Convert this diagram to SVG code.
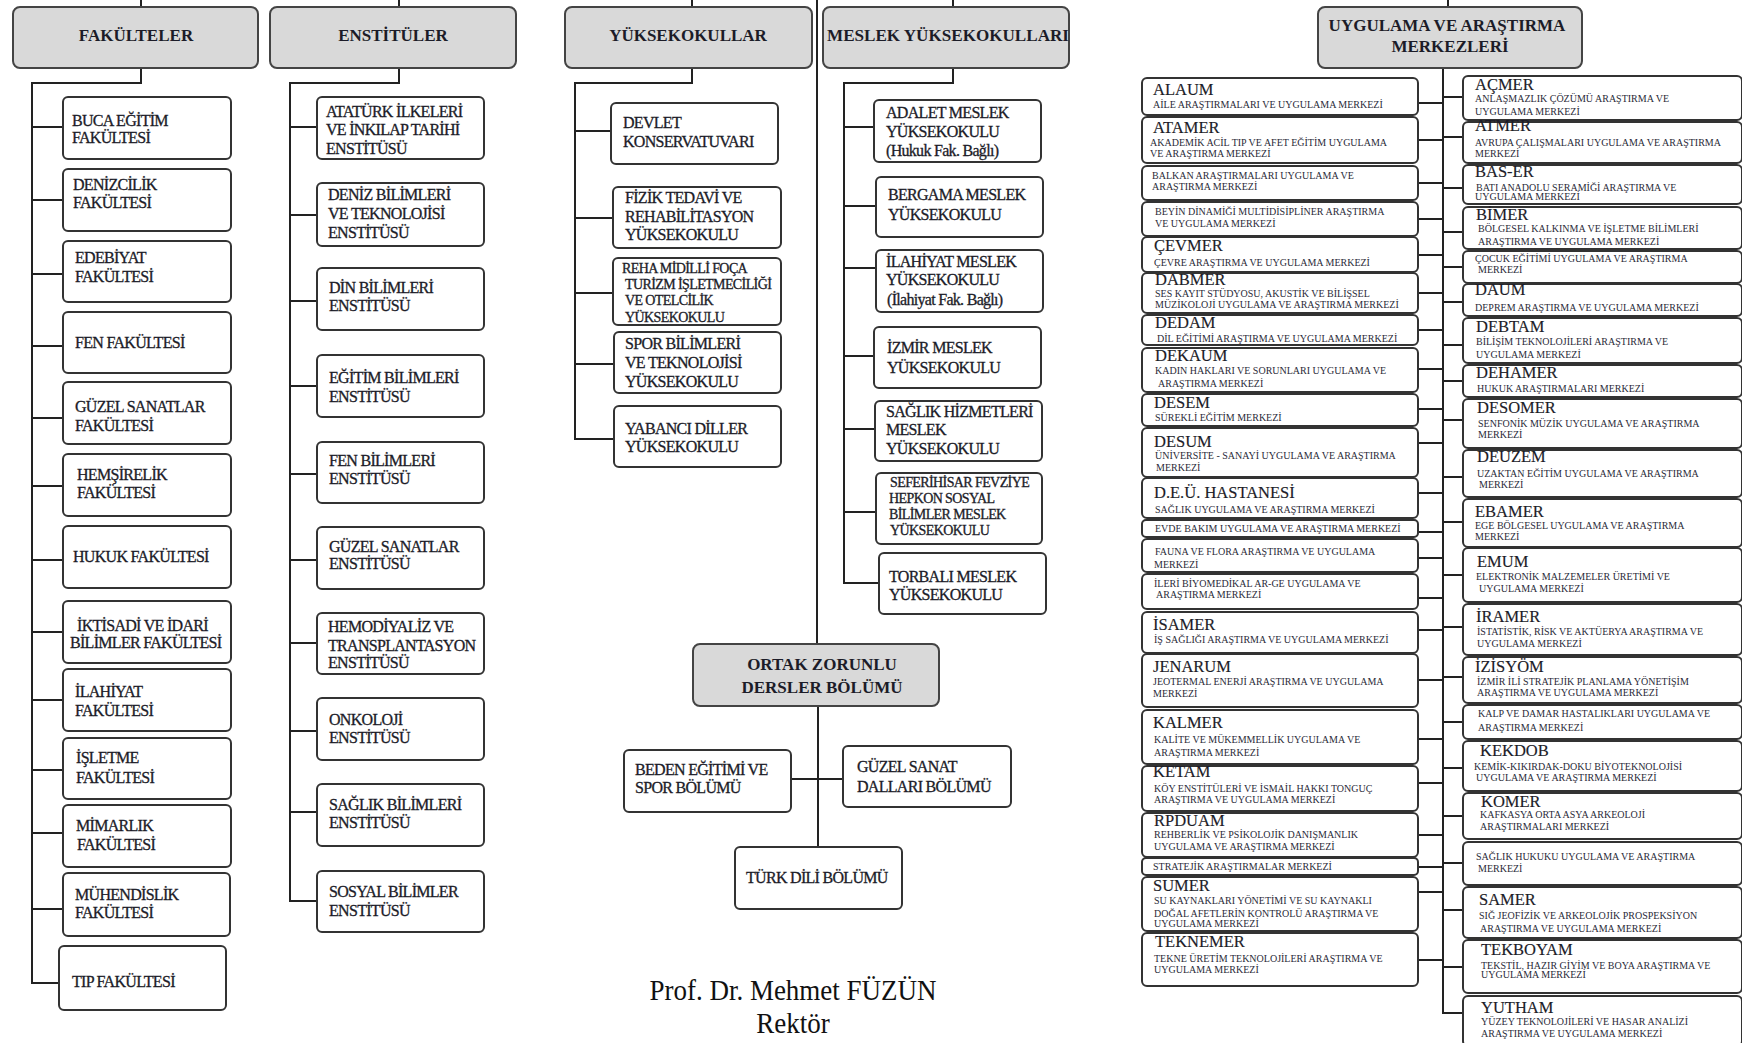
<svg xmlns="http://www.w3.org/2000/svg" width="1742" height="1043" viewBox="0 0 1742 1043">
<style>
text{font-family:"Liberation Serif","Times New Roman",serif;fill:#1c1c28}
.box{fill:#fff;stroke:#333;stroke-width:2}
.hdr{fill:#d9d9d9;stroke:#444;stroke-width:2}
.h{font-size:17px;font-weight:bold;text-anchor:middle}
.t{font-size:16px;letter-spacing:-0.7px;stroke:#1c1c28;stroke-width:0.3}
.s{font-size:14px;letter-spacing:-0.6px;stroke:#1c1c28;stroke-width:0.3}
.ct{font-size:16.5px;stroke:#1c1c28;stroke-width:0.15}
.cs{font-size:10px;fill:#2a2a38}
.sig{font-size:27px;text-anchor:middle;fill:#111;transform-box:fill-box;transform-origin:50% 80.5%;transform:scaleY(1.1)}
.ln{fill:none;stroke:#222;stroke-width:2}
</style>
<rect width="1742" height="1043" fill="#fff"/>
<g id="connectors" class="ln">
<path d="M141 0V7M399 0V7M692 0V7M953 0V7M1448 0V7M817 0V644"/>
<path d="M141 68V83H32V983H59M32 127H63M32 200H63M32 274H63M32 346H63M32 418H63M32 486H63M32 560H63M32 632H63M32 700H63M32 770H63M32 833H63M32 909H63"/>
<path d="M399 68V83H290V901H317M290 127H317M290 215H317M290 301H317M290 386H317M290 474H317M290 560H317M290 643H317M290 731H317M290 812H317"/>
<path d="M692 68V83H575V439H614M575 131H611M575 218H613M575 293H613M575 364H614"/>
<path d="M953 68V83H844V583H879M844 127H874M844 206H876M844 268H876M844 356H874M844 429H875M844 512H876"/>
<path d="M818 706V847M791 779H843"/>
<path d="M1443 68V1013H1463"/>
<path d="M1418 103H1443M1418 140H1443M1418 183H1443M1418 219H1443M1418 255H1443M1418 293H1443M1418 330H1443M1418 369H1443M1418 409H1443M1418 443H1443M1418 493H1443M1418 532H1443M1418 558H1443M1418 598H1443M1418 630H1443M1418 680H1443M1418 739H1443M1418 783H1443M1418 835H1443M1418 867H1443M1418 892H1443M1418 960H1443"/>
<path d="M1443 97H1463M1443 137H1463M1443 188H1463M1443 232H1463M1443 267H1463M1443 302H1463M1443 345H1463M1443 381H1463M1443 420H1463M1443 477H1463M1443 522H1463M1443 575H1463M1443 627H1463M1443 677H1463M1443 722H1463M1443 768H1463M1443 816H1463M1443 863H1463M1443 910H1463M1443 967H1463"/>
</g>

<!-- headers -->
<g id="hdr-fakulteler"><rect class="hdr" x="13" y="7" width="245" height="61" rx="7"/><text class="h" x="136" y="41">FAKÜLTELER</text></g>
<g id="hdr-enstituler"><rect class="hdr" x="270" y="7" width="246" height="61" rx="7"/><text class="h" x="393" y="41">ENSTİTÜLER</text></g>
<g id="hdr-yuksekokullar"><rect class="hdr" x="565" y="7" width="247" height="61" rx="7"/><text class="h" x="688" y="41">YÜKSEKOKULLAR</text></g>
<g id="hdr-myo"><rect class="hdr" x="823" y="7" width="246" height="61" rx="7"/><text class="h" x="948" y="41" textLength="242" lengthAdjust="spacingAndGlyphs">MESLEK YÜKSEKOKULLARI</text></g>
<g id="hdr-merkezler"><rect class="hdr" x="1318" y="7" width="264" height="61" rx="7"/><text class="h" x="1447" y="31">UYGULAMA VE ARAŞTIRMA</text><text class="h" x="1450" y="52">MERKEZLERİ</text></g>

<!-- Fakülteler -->
<g id="fak-buca"><rect class="box" x="63" y="97" width="168" height="62" rx="5"/><text class="t" x="72" y="126">BUCA EĞİTİM</text><text class="t" x="72" y="143">FAKÜLTESİ</text></g>
<g id="fak-denizcilik"><rect class="box" x="63" y="169" width="168" height="62" rx="5"/><text class="t" x="73" y="190">DENİZCİLİK</text><text class="t" x="73" y="208">FAKÜLTESİ</text></g>
<g id="fak-edebiyat"><rect class="box" x="63" y="241" width="168" height="61" rx="5"/><text class="t" x="75" y="263">EDEBİYAT</text><text class="t" x="75" y="282">FAKÜLTESİ</text></g>
<g id="fak-fen"><rect class="box" x="63" y="312" width="168" height="61" rx="5"/><text class="t" x="75" y="348">FEN FAKÜLTESİ</text></g>
<g id="fak-guzel"><rect class="box" x="63" y="382" width="168" height="62" rx="5"/><text class="t" x="75" y="412">GÜZEL SANATLAR</text><text class="t" x="75" y="431">FAKÜLTESİ</text></g>
<g id="fak-hemsirelik"><rect class="box" x="63" y="454" width="168" height="62" rx="5"/><text class="t" x="77" y="480">HEMŞİRELİK</text><text class="t" x="77" y="498">FAKÜLTESİ</text></g>
<g id="fak-hukuk"><rect class="box" x="63" y="526" width="168" height="62" rx="5"/><text class="t" x="73" y="562">HUKUK  FAKÜLTESİ</text></g>
<g id="fak-iktisadi"><rect class="box" x="63" y="601" width="168" height="62" rx="5"/><text class="t" x="77" y="631">İKTİSADİ VE İDARİ</text><text class="t" x="70" y="648">BİLİMLER FAKÜLTESİ</text></g>
<g id="fak-ilahiyat"><rect class="box" x="63" y="669" width="168" height="62" rx="5"/><text class="t" x="75" y="697">İLAHİYAT</text><text class="t" x="75" y="716">FAKÜLTESİ</text></g>
<g id="fak-isletme"><rect class="box" x="63" y="738" width="168" height="61" rx="5"/><text class="t" x="76" y="763">İŞLETME</text><text class="t" x="76" y="783">FAKÜLTESİ</text></g>
<g id="fak-mimarlik"><rect class="box" x="63" y="805" width="168" height="62" rx="5"/><text class="t" x="76" y="831">MİMARLIK</text><text class="t" x="77" y="850">FAKÜLTESİ</text></g>
<g id="fak-muhendislik"><rect class="box" x="63" y="873" width="167" height="63" rx="5"/><text class="t" x="75" y="900">MÜHENDİSLİK</text><text class="t" x="75" y="918">FAKÜLTESİ</text></g>
<g id="fak-tip"><rect class="box" x="59" y="946" width="167" height="64" rx="5"/><text class="t" x="72" y="987">TIP FAKÜLTESİ</text></g>

<!-- Enstitüler -->
<g id="ens-ataturk"><rect class="box" x="317" y="97" width="167" height="62" rx="5"/><text class="t" x="326" y="117">ATATÜRK İLKELERİ</text><text class="t" x="326" y="135">VE İNKILAP TARİHİ</text><text class="t" x="326" y="154">ENSTİTÜSÜ</text></g>
<g id="ens-deniz"><rect class="box" x="317" y="183" width="167" height="63" rx="5"/><text class="t" x="328" y="200">DENİZ BİLİMLERİ</text><text class="t" x="328" y="219">VE TEKNOLOJİSİ</text><text class="t" x="328" y="238">ENSTİTÜSÜ</text></g>
<g id="ens-din"><rect class="box" x="317" y="268" width="167" height="62" rx="5"/><text class="t" x="329" y="293">DİN BİLİMLERİ</text><text class="t" x="329" y="311">ENSTİTÜSÜ</text></g>
<g id="ens-egitim"><rect class="box" x="317" y="355" width="167" height="62" rx="5"/><text class="t" x="329" y="383">EĞİTİM BİLİMLERİ</text><text class="t" x="329" y="402">ENSTİTÜSÜ</text></g>
<g id="ens-fen"><rect class="box" x="317" y="442" width="167" height="61" rx="5"/><text class="t" x="329" y="466">FEN BİLİMLERİ</text><text class="t" x="329" y="484">ENSTİTÜSÜ</text></g>
<g id="ens-guzel"><rect class="box" x="317" y="527" width="167" height="62" rx="5"/><text class="t" x="329" y="552">GÜZEL SANATLAR</text><text class="t" x="329" y="569">ENSTİTÜSÜ</text></g>
<g id="ens-hemodiyaliz"><rect class="box" x="317" y="613" width="167" height="61" rx="5"/><text class="t" x="328" y="632">HEMODİYALİZ VE</text><text class="t" x="328" y="651">TRANSPLANTASYON</text><text class="t" x="328" y="668">ENSTİTÜSÜ</text></g>
<g id="ens-onkoloji"><rect class="box" x="317" y="698" width="167" height="62" rx="5"/><text class="t" x="329" y="725">ONKOLOJİ</text><text class="t" x="329" y="743">ENSTİTÜSÜ</text></g>
<g id="ens-saglik"><rect class="box" x="317" y="784" width="167" height="62" rx="5"/><text class="t" x="329" y="810">SAĞLIK BİLİMLERİ</text><text class="t" x="329" y="828">ENSTİTÜSÜ</text></g>
<g id="ens-sosyal"><rect class="box" x="317" y="871" width="167" height="61" rx="5"/><text class="t" x="329" y="897">SOSYAL BİLİMLER</text><text class="t" x="329" y="916">ENSTİTÜSÜ</text></g>

<!-- Yüksekokullar -->
<g id="yo-devlet"><rect class="box" x="611" y="103" width="167" height="61" rx="5"/><text class="t" x="623" y="128">DEVLET</text><text class="t" x="623" y="147">KONSERVATUVARI</text></g>
<g id="yo-fizik"><rect class="box" x="613" y="187" width="168" height="61" rx="5"/><text class="t" x="625" y="203">FİZİK TEDAVİ VE</text><text class="t" x="625" y="222">REHABİLİTASYON</text><text class="t" x="625" y="240">YÜKSEKOKULU</text></g>
<g id="yo-reha"><rect class="box" x="613" y="258" width="168" height="67" rx="5"/><text class="s" x="622" y="273">REHA MİDİLLİ FOÇA</text><text class="s" x="625" y="289">TURİZM İŞLETMECİLİĞİ</text><text class="s" x="625" y="305">VE OTELCİLİK</text><text class="s" x="625" y="322">YÜKSEKOKULU</text></g>
<g id="yo-spor"><rect class="box" x="614" y="332" width="167" height="61" rx="5"/><text class="t" x="625" y="349">SPOR BİLİMLERİ</text><text class="t" x="625" y="368">VE TEKNOLOJİSİ</text><text class="t" x="625" y="387">YÜKSEKOKULU</text></g>
<g id="yo-yabanci"><rect class="box" x="614" y="406" width="167" height="61" rx="5"/><text class="t" x="625" y="434">YABANCI  DİLLER</text><text class="t" x="625" y="452">YÜKSEKOKULU</text></g>

<!-- Meslek Yüksekokulları -->
<g id="myo-adalet"><rect class="box" x="874" y="100" width="167" height="62" rx="5"/><text class="t" x="886" y="118">ADALET MESLEK</text><text class="t" x="886" y="137">YÜKSEKOKULU</text><text class="t" x="886" y="156">(Hukuk Fak. Bağlı)</text></g>
<g id="myo-bergama"><rect class="box" x="876" y="177" width="167" height="60" rx="5"/><text class="t" x="888" y="200">BERGAMA MESLEK</text><text class="t" x="888" y="220">YÜKSEKOKULU</text></g>
<g id="myo-ilahiyat"><rect class="box" x="876" y="250" width="167" height="62" rx="5"/><text class="t" x="886" y="267">İLAHİYAT MESLEK</text><text class="t" x="886" y="285">YÜKSEKOKULU</text><text class="t" x="887" y="305">(İlahiyat Fak. Bağlı)</text></g>
<g id="myo-izmir"><rect class="box" x="874" y="327" width="167" height="61" rx="5"/><text class="t" x="887" y="353">İZMİR MESLEK</text><text class="t" x="887" y="373">YÜKSEKOKULU</text></g>
<g id="myo-saglik"><rect class="box" x="875" y="401" width="167" height="60" rx="5"/><text class="t" x="886" y="417">SAĞLIK HİZMETLERİ</text><text class="t" x="886" y="435">MESLEK</text><text class="t" x="886" y="454">YÜKSEKOKULU</text></g>
<g id="myo-seferihisar"><rect class="box" x="876" y="473" width="166" height="71" rx="5"/><text class="s" x="890" y="487">SEFERİHİSAR FEVZİYE</text><text class="s" x="889" y="503">HEPKON SOSYAL</text><text class="s" x="889" y="519">BİLİMLER  MESLEK</text><text class="s" x="890" y="535">YÜKSEKOKULU</text></g>
<g id="myo-torbali"><rect class="box" x="879" y="553" width="167" height="61" rx="5"/><text class="t" x="889" y="582">TORBALI MESLEK</text><text class="t" x="889" y="600">YÜKSEKOKULU</text></g>

<!-- Ortak Zorunlu -->
<g id="hdr-ortak"><rect class="hdr" x="693" y="644" width="246" height="62" rx="7"/><text class="h" x="822" y="670">ORTAK ZORUNLU</text><text class="h" x="822" y="693">DERSLER BÖLÜMÜ</text></g>
<g id="ozd-beden"><rect class="box" x="624" y="750" width="167" height="62" rx="5"/><text class="t" x="635" y="775">BEDEN EĞİTİMİ VE</text><text class="t" x="635" y="793">SPOR BÖLÜMÜ</text></g>
<g id="ozd-guzel"><rect class="box" x="843" y="746" width="168" height="61" rx="5"/><text class="t" x="857" y="772">GÜZEL SANAT</text><text class="t" x="857" y="792">DALLARI BÖLÜMÜ</text></g>
<g id="ozd-turk"><rect class="box" x="735" y="847" width="167" height="62" rx="5"/><text class="t" x="746" y="883">TÜRK DİLİ BÖLÜMÜ</text></g>

<g id="signature"><text class="sig" x="793" y="1000">Prof. Dr. Mehmet FÜZÜN</text><text class="sig" x="793" y="1033">Rektör</text></g>

<!-- Merkezler left column -->
<g id="m-alaum"><rect class="box" x="1142" y="78" width="276" height="37" rx="5"/><text class="ct" x="1153" y="95">ALAUM</text><text class="cs" x="1153" y="108">AİLE ARAŞTIRMALARI VE UYGULAMA MERKEZİ</text></g>
<g id="m-atamer"><rect class="box" x="1142" y="117" width="276" height="46" rx="5"/><text class="ct" x="1153" y="133">ATAMER</text><text class="cs" x="1150" y="146">AKADEMİK ACİL TIP VE AFET EĞİTİM  UYGULAMA</text><text class="cs" x="1150" y="157">VE ARAŞTIRMA MERKEZİ</text></g>
<g id="m-balkan"><rect class="box" x="1142" y="166" width="276" height="34" rx="5"/><text class="cs" x="1152" y="179">BALKAN ARAŞTIRMALARI UYGULAMA VE</text><text class="cs" x="1152" y="190">ARAŞTIRMA MERKEZİ</text></g>
<g id="m-beyin"><rect class="box" x="1142" y="202" width="276" height="34" rx="5"/><text class="cs" x="1155" y="215">BEYİN DİNAMİĞİ MULTİDİSİPLİNER  ARAŞTIRMA</text><text class="cs" x="1155" y="227">VE UYGULAMA MERKEZİ</text></g>
<g id="m-cevmer"><rect class="box" x="1142" y="237" width="276" height="35" rx="5"/><text class="ct" x="1154" y="251">ÇEVMER</text><text class="cs" x="1154" y="266">ÇEVRE ARAŞTIRMA VE UYGULAMA MERKEZİ</text></g>
<g id="m-dabmer"><rect class="box" x="1142" y="273" width="276" height="40" rx="5"/><text class="ct" x="1155" y="285">DABMER</text><text class="cs" x="1155" y="297">SES KAYIT STÜDYOSU, AKUSTİK VE BİLİŞSEL</text><text class="cs" x="1155" y="308">MÜZİKOLOJİ  UYGULAMA VE ARAŞTIRMA MERKEZİ</text></g>
<g id="m-dedam"><rect class="box" x="1142" y="315" width="276" height="30" rx="5"/><text class="ct" x="1155" y="328">DEDAM</text><text class="cs" x="1157" y="342">DİL EĞİTİMİ ARAŞTIRMA VE UYGULAMA MERKEZİ</text></g>
<g id="m-dekaum"><rect class="box" x="1142" y="348" width="276" height="44" rx="5"/><text class="ct" x="1155" y="361">DEKAUM</text><text class="cs" x="1155" y="374">KADIN  HAKLARI VE SORUNLARI UYGULAMA  VE</text><text class="cs" x="1158" y="387">ARAŞTIRMA MERKEZİ</text></g>
<g id="m-desem"><rect class="box" x="1142" y="394" width="276" height="32" rx="5"/><text class="ct" x="1154" y="408">DESEM</text><text class="cs" x="1155" y="421">SÜREKLİ EĞİTİM MERKEZİ</text></g>
<g id="m-desum"><rect class="box" x="1142" y="428" width="276" height="49" rx="5"/><text class="ct" x="1154" y="447">DESUM</text><text class="cs" x="1155" y="459">ÜNİVERSİTE - SANAYİ UYGULAMA VE ARAŞTIRMA</text><text class="cs" x="1156" y="471">MERKEZİ</text></g>
<g id="m-deu"><rect class="box" x="1142" y="478" width="276" height="40" rx="5"/><text class="ct" x="1154" y="498">D.E.Ü. HASTANESİ</text><text class="cs" x="1155" y="513">SAĞLIK UYGULAMA VE  ARAŞTIRMA MERKEZİ</text></g>
<g id="m-evde"><rect class="box" x="1142" y="520" width="276" height="17" rx="4"/><text class="cs" x="1155" y="532">EVDE BAKIM UYGULAMA VE ARAŞTIRMA  MERKEZİ</text></g>
<g id="m-fauna"><rect class="box" x="1142" y="539" width="276" height="33" rx="5"/><text class="cs" x="1155" y="555">FAUNA VE  FLORA ARAŞTIRMA VE UYGULAMA</text><text class="cs" x="1154" y="568">MERKEZİ</text></g>
<g id="m-ileri"><rect class="box" x="1142" y="574" width="276" height="35" rx="5"/><text class="cs" x="1154" y="587">İLERİ BİYOMEDİKAL AR-GE UYGULAMA VE</text><text class="cs" x="1156" y="598">ARAŞTIRMA MERKEZİ</text></g>
<g id="m-isamer"><rect class="box" x="1142" y="612" width="276" height="41" rx="5"/><text class="ct" x="1153" y="630">İSAMER</text><text class="cs" x="1154" y="643">İŞ SAĞLIĞI ARAŞTIRMA VE UYGULAMA MERKEZİ</text></g>
<g id="m-jenarum"><rect class="box" x="1142" y="654" width="276" height="53" rx="5"/><text class="ct" x="1153" y="672">JENARUM</text><text class="cs" x="1153" y="685">JEOTERMAL ENERJİ ARAŞTIRMA VE UYGULAMA</text><text class="cs" x="1153" y="697">MERKEZİ</text></g>
<g id="m-kalmer"><rect class="box" x="1142" y="710" width="276" height="54" rx="5"/><text class="ct" x="1153" y="728">KALMER</text><text class="cs" x="1154" y="743">KALİTE VE MÜKEMMELLİK  UYGULAMA VE</text><text class="cs" x="1154" y="756">ARAŞTIRMA  MERKEZİ</text></g>
<g id="m-ketam"><rect class="box" x="1142" y="766" width="276" height="45" rx="5"/><text class="ct" x="1153" y="777">KETAM</text><text class="cs" x="1154" y="792">KÖY ENSTİTÜLERİ VE İSMAİL HAKKI TONGUÇ</text><text class="cs" x="1154" y="803">ARAŞTIRMA VE UYGULAMA MERKEZİ</text></g>
<g id="m-rpduam"><rect class="box" x="1142" y="813" width="276" height="44" rx="5"/><text class="ct" x="1154" y="826">RPDUAM</text><text class="cs" x="1154" y="838">REHBERLİK VE PSİKOLOJİK DANIŞMANLIK</text><text class="cs" x="1154" y="850">UYGULAMA VE ARAŞTIRMA  MERKEZİ</text></g>
<g id="m-stratejik"><rect class="box" x="1142" y="858" width="276" height="17" rx="4"/><text class="cs" x="1153" y="870">STRATEJİK ARAŞTIRMALAR MERKEZİ</text></g>
<g id="m-sumer"><rect class="box" x="1142" y="877" width="276" height="54" rx="5"/><text class="ct" x="1153" y="891">SUMER</text><text class="cs" x="1154" y="904">SU KAYNAKLARI YÖNETİMİ VE SU KAYNAKLI</text><text class="cs" x="1154" y="917">DOĞAL AFETLERİN KONTROLÜ ARAŞTIRMA VE</text><text class="cs" x="1154" y="927">UYGULAMA MERKEZİ</text></g>
<g id="m-teknemer"><rect class="box" x="1142" y="933" width="276" height="53" rx="5"/><text class="ct" x="1155" y="947">TEKNEMER</text><text class="cs" x="1154" y="962">TEKNE ÜRETİM TEKNOLOJİLERİ ARAŞTIRMA VE</text><text class="cs" x="1154" y="973">UYGULAMA MERKEZİ</text></g>

<!-- Merkezler right column -->
<g id="m-acmer"><rect class="box" x="1463" y="76" width="279" height="44" rx="5"/><text class="ct" x="1475" y="90">AÇMER</text><text class="cs" x="1475" y="102">ANLAŞMAZLIK ÇÖZÜMÜ  ARAŞTIRMA VE</text><text class="cs" x="1475" y="115">UYGULAMA MERKEZİ</text></g>
<g id="m-atmer"><rect class="box" x="1463" y="122" width="279" height="41" rx="5"/><text class="ct" x="1475" y="131">ATMER</text><text class="cs" x="1475" y="146">AVRUPA ÇALIŞMALARI UYGULAMA VE ARAŞTIRMA</text><text class="cs" x="1475" y="157">MERKEZİ</text></g>
<g id="m-baser"><rect class="box" x="1463" y="165" width="279" height="39" rx="5"/><text class="ct" x="1475" y="177">BAS-ER</text><text class="cs" x="1476" y="191">BATI ANADOLU SERAMİĞİ ARAŞTIRMA VE</text><text class="cs" x="1475" y="200">UYGULAMA MERKEZİ</text></g>
<g id="m-bimer"><rect class="box" x="1463" y="207" width="279" height="42" rx="5"/><text class="ct" x="1476" y="220">BİMER</text><text class="cs" x="1478" y="232">BÖLGESEL KALKINMA VE İŞLETME BİLİMLERİ</text><text class="cs" x="1478" y="245">ARAŞTIRMA VE UYGULAMA MERKEZİ</text></g>
<g id="m-cocuk"><rect class="box" x="1463" y="251" width="279" height="32" rx="5"/><text class="cs" x="1475" y="262">ÇOCUK EĞİTİMİ UYGULAMA VE ARAŞTIRMA</text><text class="cs" x="1478" y="273">MERKEZİ</text></g>
<g id="m-daum"><rect class="box" x="1463" y="284" width="279" height="32" rx="5"/><text class="ct" x="1475" y="295">DAUM</text><text class="cs" x="1475" y="311">DEPREM ARAŞTIRMA VE UYGULAMA MERKEZİ</text></g>
<g id="m-debtam"><rect class="box" x="1463" y="318" width="279" height="45" rx="5"/><text class="ct" x="1476" y="332">DEBTAM</text><text class="cs" x="1476" y="345">BİLİŞİM TEKNOLOJİLERİ ARAŞTIRMA VE</text><text class="cs" x="1476" y="358">UYGULAMA MERKEZİ</text></g>
<g id="m-dehamer"><rect class="box" x="1463" y="365" width="279" height="32" rx="5"/><text class="ct" x="1476" y="378">DEHAMER</text><text class="cs" x="1477" y="392">HUKUK ARAŞTIRMALARI MERKEZİ</text></g>
<g id="m-desomer"><rect class="box" x="1463" y="399" width="279" height="49" rx="5"/><text class="ct" x="1477" y="413">DESOMER</text><text class="cs" x="1478" y="427">SENFONİK MÜZİK UYGULAMA VE ARAŞTIRMA</text><text class="cs" x="1478" y="438">MERKEZİ</text></g>
<g id="m-deuzem"><rect class="box" x="1463" y="450" width="279" height="47" rx="5"/><text class="ct" x="1477" y="462">DEUZEM</text><text class="cs" x="1477" y="477">UZAKTAN EĞİTİM UYGULAMA VE ARAŞTIRMA</text><text class="cs" x="1479" y="488">MERKEZİ</text></g>
<g id="m-ebamer"><rect class="box" x="1463" y="499" width="279" height="48" rx="5"/><text class="ct" x="1475" y="517">EBAMER</text><text class="cs" x="1475" y="529">EGE BÖLGESEL UYGULAMA VE ARAŞTIRMA</text><text class="cs" x="1475" y="540">MERKEZİ</text></g>
<g id="m-emum"><rect class="box" x="1463" y="548" width="279" height="54" rx="5"/><text class="ct" x="1477" y="567">EMUM</text><text class="cs" x="1476" y="580">ELEKTRONİK  MALZEMELER ÜRETİMİ VE</text><text class="cs" x="1479" y="592">UYGULAMA  MERKEZİ</text></g>
<g id="m-iramer"><rect class="box" x="1463" y="604" width="279" height="51" rx="5"/><text class="ct" x="1476" y="622">İRAMER</text><text class="cs" x="1477" y="635">İSTATİSTİK, RİSK VE AKTÜERYA ARAŞTIRMA VE</text><text class="cs" x="1477" y="647">UYGULAMA MERKEZİ</text></g>
<g id="m-izisyom"><rect class="box" x="1463" y="657" width="279" height="46" rx="5"/><text class="ct" x="1475" y="672">İZİSYÖM</text><text class="cs" x="1477" y="685">İZMİR İLİ STRATEJİK PLANLAMA YÖNETİŞİM</text><text class="cs" x="1477" y="696">ARAŞTIRMA VE UYGULAMA MERKEZİ</text></g>
<g id="m-kalp"><rect class="box" x="1463" y="705" width="279" height="34" rx="5"/><text class="cs" x="1478" y="717">KALP VE DAMAR HASTALIKLARI UYGULAMA VE</text><text class="cs" x="1478" y="731">ARAŞTIRMA MERKEZİ</text></g>
<g id="m-kekdob"><rect class="box" x="1463" y="741" width="279" height="50" rx="5"/><text class="ct" x="1480" y="756">KEKDOB</text><text class="cs" x="1474" y="770">KEMİK-KIKIRDAK-DOKU BİYOTEKNOLOJİSİ</text><text class="cs" x="1476" y="781">UYGULAMA VE ARAŞTIRMA  MERKEZİ</text></g>
<g id="m-komer"><rect class="box" x="1463" y="793" width="279" height="46" rx="5"/><text class="ct" x="1481" y="807">KOMER</text><text class="cs" x="1480" y="818">KAFKASYA ORTA ASYA ARKEOLOJİ</text><text class="cs" x="1480" y="830">ARAŞTIRMALARI MERKEZİ</text></g>
<g id="m-saglikhukuku"><rect class="box" x="1463" y="842" width="279" height="43" rx="5"/><text class="cs" x="1476" y="860">SAĞLIK HUKUKU UYGULAMA VE ARAŞTIRMA</text><text class="cs" x="1478" y="872">MERKEZİ</text></g>
<g id="m-samer"><rect class="box" x="1463" y="887" width="279" height="51" rx="5"/><text class="ct" x="1479" y="905">SAMER</text><text class="cs" x="1479" y="919">SIĞ JEOFİZİK VE ARKEOLOJİK PROSPEKSİYON</text><text class="cs" x="1480" y="932">ARAŞTIRMA VE UYGULAMA MERKEZİ</text></g>
<g id="m-tekboyam"><rect class="box" x="1463" y="940" width="279" height="53" rx="5"/><text class="ct" x="1481" y="955">TEKBOYAM</text><text class="cs" x="1481" y="969">TEKSTİL, HAZIR GİYİM VE BOYA ARAŞTIRMA VE</text><text class="cs" x="1481" y="978">UYGULAMA MERKEZİ</text></g>
<g id="m-yutham"><rect class="box" x="1463" y="996" width="279" height="50" rx="5"/><text class="ct" x="1481" y="1013">YUTHAM</text><text class="cs" x="1481" y="1025">YÜZEY TEKNOLOJİLERİ VE HASAR ANALİZİ</text><text class="cs" x="1481" y="1037">ARAŞTIRMA VE UYGULAMA MERKEZİ</text></g>
</svg>
